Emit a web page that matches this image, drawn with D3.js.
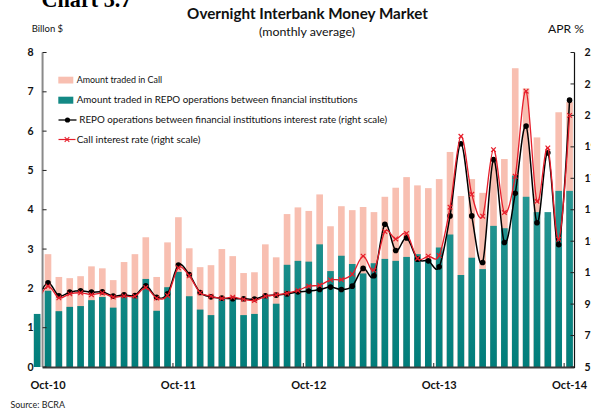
<!DOCTYPE html>
<html><head><meta charset="utf-8">
<script src="https://cdn.jsdelivr.net/npm/d3@7"></script>
<style>body{margin:0;background:#fff}svg{display:block}</style>
</head><body><svg id="c" width="591" height="412"></svg>
<script>
const months = ["Sep-10","Oct-10","Nov-10","Dec-10","Jan-11","Feb-11","Mar-11","Apr-11","May-11","Jun-11","Jul-11","Aug-11","Sep-11",
"Oct-11","Nov-11","Dec-11","Jan-12","Feb-12","Mar-12","Apr-12","May-12","Jun-12","Jul-12","Aug-12","Sep-12",
"Oct-12","Nov-12","Dec-12","Jan-13","Feb-13","Mar-13","Apr-13","May-13","Jun-13","Jul-13","Aug-13","Sep-13",
"Oct-13","Nov-13","Dec-13","Jan-14","Feb-14","Mar-14","Apr-14","May-14","Jun-14","Jul-14","Aug-14","Sep-14","Oct-14"];
const callAmount = [1.25,2.87,2.29,2.26,2.31,2.56,2.51,2.21,2.67,2.87,3.30,2.29,3.17,
3.81,3.02,2.54,2.59,3.00,2.82,2.39,2.41,3.12,2.79,3.89,4.06,
3.97,4.39,3.58,4.09,3.99,4.07,3.94,4.33,4.56,4.83,4.62,4.55,
4.78,5.47,4.35,4.78,4.43,5.29,5.29,7.60,7.09,5.84,3.80,6.48,6.74];
const repoAmount = [1.35,1.94,1.42,1.53,1.55,1.70,1.78,1.51,1.79,1.81,2.24,1.43,2.03,
2.42,1.80,1.46,1.32,1.74,1.72,1.32,1.35,1.79,1.61,2.60,2.70,
2.68,3.12,2.44,2.83,2.62,2.38,2.64,2.75,2.70,2.80,2.87,2.73,
3.04,3.37,2.34,2.78,2.49,3.59,3.53,4.87,4.33,3.94,3.94,4.48,4.48];
const repoRate = [9.30,10.35,9.53,9.76,9.85,9.76,9.78,9.51,9.59,9.55,10.16,9.43,9.65,
11.48,10.88,9.74,9.46,9.38,9.34,9.34,9.32,9.53,9.57,9.65,9.78,
9.83,9.93,10.08,9.93,10.14,11.27,10.80,14.08,12.41,13.21,11.86,11.75,
11.37,14.61,19.20,14.61,11.65,18.19,12.92,16.05,20.32,14.17,18.62,12.77,21.97];
const callRate = [9.10,10.14,9.40,9.65,9.72,9.60,9.70,9.45,9.52,9.50,10.05,9.38,9.55,
11.31,10.80,9.72,9.50,9.36,9.44,9.30,9.23,9.49,9.59,9.69,9.87,
10.14,10.20,10.54,10.56,10.90,12.05,11.16,13.61,13.14,13.49,11.90,12.05,
12.09,15.16,19.67,15.98,14.59,18.82,14.82,17.13,22.54,15.54,18.93,13.12,21.00];
const xTickLabels = ["Oct-10","Oct-11","Oct-12","Oct-13","Oct-14"];
const leftTicks = [0,1,2,3,4,5,6,7,8];
const rightTicks = [5,7,9,11,13,15,17,19,21,23,25];
const legendLabels = ["Amount traded in Call",
 "Amount traded in REPO operations between financial institutions",
 "REPO operations between financial institutions interest rate (right scale)",
 "Call interest rate (right scale)"];

const svg = d3.select("#c");
const FONT = "Lato, 'Open Sans', sans-serif";
const PINK = "#f8bfb1", RED = "#e61e2b";

const x = d3.scaleBand().domain(months).range([31.7, 575]).paddingInner(0.39).paddingOuter(0.195);
const yL = d3.scaleLinear().domain([0, 8]).range([367, 52.5]);
const yR = d3.scaleLinear().domain([5, 25]).range([367, 52.5]);
const gapHalf = (x.step() - x.bandwidth()) / 2;
const plotLeft = x(months[1]) - gapHalf;
const plotRight = 574.5;
const cx = d => x(d) + x.bandwidth() / 2;

function fit(sel, target) {
  const w = sel.node().getComputedTextLength();
  const fs = parseFloat(sel.attr("font-size"));
  sel.attr("font-size", fs * target / w);
  return sel;
}

const defs = svg.append("defs");
const grad = defs.append("linearGradient").attr("id", "teal")
  .attr("gradientUnits", "userSpaceOnUse").attr("x1", 0).attr("x2", 0)
  .attr("y1", yL(0)).attr("y2", yL(5));
grad.append("stop").attr("offset", 0).attr("stop-color", "#007d7a");
grad.append("stop").attr("offset", 1).attr("stop-color", "#2e9b98");
defs.append("clipPath").attr("id", "plotclip").append("rect")
  .attr("x", plotLeft).attr("y", 0).attr("width", plotRight - plotLeft + 2).attr("height", 412);

// partial heading at top
fit(svg.append("text").attr("x", 41.5).attr("y", 7.3).attr("font-family", "'Liberation Serif', serif")
  .attr("font-weight", 700).attr("font-size", 24).text("Chart 3.7"), 90);

// titles
fit(svg.append("text").attr("x", 307.5).attr("y", 19).attr("text-anchor", "middle")
  .attr("font-family", FONT).attr("font-weight", 700).attr("font-size", 14).attr("fill", "#111")
  .text("Overnight Interbank Money Market"), 241);
fit(svg.append("text").attr("x", 307).attr("y", 35.5).attr("text-anchor", "middle")
  .attr("font-family", FONT).attr("font-size", 12).attr("fill", "#111")
  .text("(monthly average)"), 96);
fit(svg.append("text").attr("x", 31.7).attr("y", 32).attr("font-family", FONT)
  .attr("font-size", 10).attr("fill", "#111").text("Billon $"), 31.5);
fit(svg.append("text").attr("x", 548).attr("y", 33).attr("font-family", FONT)
  .attr("font-size", 10).attr("fill", "#111").text("APR %"), 36);

// bars
svg.append("g").selectAll("rect").data(months).join("rect")
  .attr("x", d => x(d)).attr("width", x.bandwidth())
  .attr("y", (d, i) => yL(callAmount[i])).attr("height", (d, i) => yL(0) - yL(callAmount[i]))
  .attr("fill", PINK);
svg.append("g").selectAll("rect").data(months).join("rect")
  .attr("x", d => x(d)).attr("width", x.bandwidth())
  .attr("y", (d, i) => yL(repoAmount[i])).attr("height", (d, i) => yL(0) - yL(repoAmount[i]))
  .attr("fill", "url(#teal)");

// axes
const axG = svg.append("g");
axG.append("line").attr("x1", plotLeft).attr("x2", plotRight).attr("y1", 367.5).attr("y2", 367.5)
  .attr("stroke", "#3c3c3c").attr("stroke-width", 2);
axG.append("line").attr("x1", plotLeft).attr("x2", plotLeft).attr("y1", 52.5).attr("y2", 367)
  .attr("stroke", "#8a8a8a").attr("stroke-width", 2);
axG.append("line").attr("x1", plotRight).attr("x2", plotRight).attr("y1", 52.5).attr("y2", 368)
  .attr("stroke", "#111").attr("stroke-width", 1.2);
axG.selectAll(".lt").data(leftTicks).join("line")
  .attr("x1", plotLeft).attr("x2", plotLeft + 4).attr("y1", d => yL(d)).attr("y2", d => yL(d))
  .attr("stroke", "#222").attr("stroke-width", 1);
axG.selectAll(".ltl").data(leftTicks).join("text")
  .attr("x", 33.5).attr("y", d => yL(d) + 3.6).attr("text-anchor", "end")
  .attr("font-family", FONT).attr("font-weight", 700).attr("font-size", 10.5).attr("fill", "#111")
  .text(d => d);
axG.selectAll(".rt").data(rightTicks).join("line")
  .attr("x1", plotRight - 4).attr("x2", plotRight).attr("y1", d => yR(d)).attr("y2", d => yR(d))
  .attr("stroke", "#222").attr("stroke-width", 1);
axG.selectAll(".rtl").data(rightTicks).join("text")
  .attr("x", 584.5).attr("y", d => yR(d) + 3.6)
  .attr("font-family", FONT).attr("font-weight", 700).attr("font-size", 10.5).attr("fill", "#111")
  .text(d => d);
axG.selectAll(".bt").data(xTickLabels.slice(1)).join("line")
  .attr("x1", d => x(d) - gapHalf).attr("x2", d => x(d) - gapHalf).attr("y1", 363).attr("y2", 367)
  .attr("stroke", "#222").attr("stroke-width", 1);
axG.selectAll(".btl").data(xTickLabels).join("text")
  .attr("x", d => cx(d)).attr("y", 389).attr("text-anchor", "middle")
  .attr("font-family", FONT).attr("font-weight", 700).attr("font-size", 11).attr("fill", "#111")
  .text(d => d);

// lines
const lineGen = vals => d3.line().x((d, i) => cx(months[i])).y(d => yR(d))
  .curve(d3.curveCatmullRom.alpha(0))(vals);
const lg = svg.append("g").attr("clip-path", "url(#plotclip)");
lg.append("path").attr("d", lineGen(repoRate)).attr("fill", "none").attr("stroke", "#000").attr("stroke-width", 1.5);
lg.selectAll(".bd").data(repoRate).join("circle")
  .attr("cx", (d, i) => cx(months[i])).attr("cy", d => yR(d)).attr("r", 2.8).attr("fill", "#000");
lg.append("path").attr("d", lineGen(callRate)).attr("fill", "none").attr("stroke", RED).attr("stroke-width", 1.3);
const s = 2.3;
lg.selectAll(".rx").data(callRate).join("path")
  .attr("d", (d, i) => { const px = cx(months[i]), py = yR(d);
    return `M${px - s},${py - s}L${px + s},${py + s}M${px - s},${py + s}L${px + s},${py - s}`; })
  .attr("stroke", RED).attr("stroke-width", 1.2).attr("fill", "none");

// legend
const leg = svg.append("g");
leg.append("rect").attr("x", 58.3).attr("y", 76.7).attr("width", 15).attr("height", 6.8).attr("fill", PINK);
leg.append("rect").attr("x", 58.3).attr("y", 96.7).attr("width", 15).attr("height", 7).attr("fill", "#138985");
leg.append("line").attr("x1", 58.5).attr("x2", 76.5).attr("y1", 120).attr("y2", 120).attr("stroke", "#000").attr("stroke-width", 1.3);
leg.append("circle").attr("cx", 67.5).attr("cy", 120).attr("r", 2.6).attr("fill", "#000");
leg.append("line").attr("x1", 58.5).attr("x2", 75.5).attr("y1", 139.5).attr("y2", 139.5).attr("stroke", RED).attr("stroke-width", 1.2);
leg.append("path").attr("d", `M${67 - s},${139.5 - s}L${67 + s},${139.5 + s}M${67 - s},${139.5 + s}L${67 + s},${139.5 - s}`)
  .attr("stroke", RED).attr("stroke-width", 1.1);
const legPos = [[76.7, 83.4], [76.7, 103.4], [79.3, 123.4], [76.7, 142.6]];
const legWidths = [85.6, 281, 308, 124];
legendLabels.forEach((t, k) => {
  fit(leg.append("text").attr("x", legPos[k][0]).attr("y", legPos[k][1])
    .attr("font-family", FONT).attr("font-size", 10).attr("fill", "#111").text(t), legWidths[k]);
});

// source
fit(svg.append("text").attr("x", 10.5).attr("y", 408).attr("font-family", FONT)
  .attr("font-size", 9).attr("fill", "#222").text("Source: BCRA"), 54.5);
</script></body></html>
